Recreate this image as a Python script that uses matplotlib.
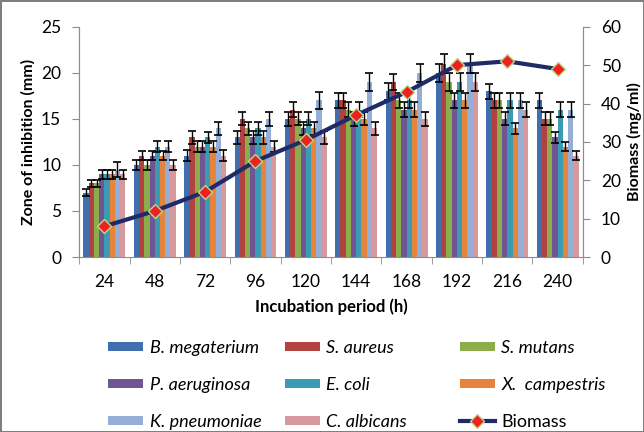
import numpy as np
import matplotlib
matplotlib.use("Agg")
import matplotlib.pyplot as plt
from matplotlib.patches import Patch
from matplotlib.lines import Line2D

plt.rcParams['font.family'] = ['Lato', 'DejaVu Sans']

hours = [24, 48, 72, 96, 120, 144, 168, 192, 216, 240]

species = ['B. megaterium', 'S. aureus', 'S. mutans', 'P. aeruginosa',
           'E. coli', 'X.  campestris', 'K. pneumoniae', 'C. albicans']

b_megaterium = [7, 10, 11, 13, 15, 17, 18, 20, 18, 17]
s_aureus = [8, 11, 13, 15, 16, 17, 19, 21, 17, 15]
s_mutans = [8, 10, 12, 14, 15, 16, 17, 19, 17, 15]
p_aeruginosa = [9, 11, 12, 13, 14, 15, 16, 17, 15, 13]
e_coli = [9, 12, 13, 14, 15, 16, 17, 19, 17, 16]
x_campestris = [9, 11, 12, 13, 14, 15, 16, 17, 14, 12]
k_pneumoniae = [9.5, 12, 14, 15, 17, 19, 20, 21, 17, 16]
c_albicans = [9, 10, 11, 12, 13, 14, 15, 19, 16, 11]

b_megaterium_err = [0.4, 0.5, 0.6, 0.7, 0.8, 0.8, 0.9, 1.0, 0.8, 0.8]
s_aureus_err = [0.4, 0.5, 0.7, 0.7, 0.8, 0.8, 0.9, 1.0, 0.8, 0.7]
s_mutans_err = [0.4, 0.5, 0.6, 0.7, 0.7, 0.8, 0.8, 1.0, 0.8, 0.7]
p_aeruginosa_err = [0.5, 0.5, 0.6, 0.7, 0.7, 0.8, 0.8, 0.8, 0.7, 0.6]
e_coli_err = [0.5, 0.6, 0.6, 0.7, 0.7, 0.8, 0.8, 1.0, 0.8, 0.8]
x_campestris_err = [0.5, 0.5, 0.6, 0.7, 0.7, 0.7, 0.8, 0.8, 0.6, 0.5]
k_pneumoniae_err = [0.8, 0.6, 0.7, 0.8, 0.9, 1.0, 1.0, 1.0, 0.8, 0.8]
c_albicans_err = [0.5, 0.5, 0.6, 0.6, 0.7, 0.7, 0.8, 1.0, 0.8, 0.5]

biomass = [8, 12, 17, 25, 30.5, 37, 43, 50, 51, 49]

colors = ['#3f6fac', '#b2423f', '#8cad4c', '#715494', '#3b9bb5', '#e5843a',
          '#94aed8', '#d6989a']

series = [b_megaterium, s_aureus, s_mutans, p_aeruginosa, e_coli,
          x_campestris, k_pneumoniae, c_albicans]
errors = [b_megaterium_err, s_aureus_err, s_mutans_err, p_aeruginosa_err,
          e_coli_err, x_campestris_err, k_pneumoniae_err, c_albicans_err]

fig = plt.figure(figsize=(6.44, 4.32), dpi=100, edgecolor='#7f7f7f', linewidth=2)
ax = fig.add_axes([0.123, 0.405, 0.782, 0.533])
ax2 = ax.twinx()

x = np.arange(len(hours))
w = 0.104
for i, (vals, errs) in enumerate(zip(series, errors)):
    pos = x + (i - 3.5) * w
    ax.bar(pos, vals, width=w, color=colors[i], zorder=2)
    ax.errorbar(pos, vals, yerr=errs, fmt='none', ecolor='black',
                elinewidth=1, capsize=3, capthick=1.2, zorder=3)

ax2.plot(x, biomass, color='#1f2a66', lw=3, marker='D', markersize=7,
         markerfacecolor='#ee2020', markeredgecolor='#b8d88a', markeredgewidth=1)

ax.set_xlim(-0.5, len(hours) - 0.5)
ax.set_ylim(0, 25)
ax2.set_ylim(0, 60)
ax.set_yticks(range(0, 26, 5))
ax2.set_yticks(range(0, 61, 10))
ax.set_xticks(x)
ax.set_xticklabels(hours)
ax.set_xticks(np.arange(-0.5, len(hours)), minor=True)
ax.tick_params(axis='x', which='major', length=0, labelsize=12.5, pad=12)
ax.tick_params(axis='x', which='minor', length=5, color='#8c8c8c')
ax.tick_params(axis='y', labelsize=12.5, length=5, color='#8c8c8c', pad=8)
ax2.tick_params(axis='y', labelsize=12.5, length=5, color='#8c8c8c', pad=8)

for a in (ax, ax2):
    a.spines['top'].set_visible(False)
    for s in ('left', 'right', 'bottom'):
        a.spines[s].set_color('#8c8c8c')
ax2.spines['bottom'].set_visible(False)

ax.set_ylabel('Zone of inhibition (mm)', fontsize=11.5, fontweight='bold')
ax2.set_ylabel('Biomass (mg/ml)', fontsize=11.5, fontweight='bold')
ax.set_xlabel('Incubation period (h)', fontsize=12, fontweight='bold', labelpad=6)

# legend: three columns placed by hand
patches = [Patch(facecolor=c, label=s) for c, s in zip(colors, species)]
line = Line2D([], [], color='#1f2a66', lw=3, marker='D', markersize=7,
              markerfacecolor='#ee2020', markeredgecolor='#b8d88a')
cols = [([patches[0], patches[3], patches[6]], [species[0], species[3], species[6]]),
        ([patches[1], patches[4], patches[7]], [species[1], species[4], species[7]]),
        ([patches[2], patches[5], line], [species[2], species[5], 'Biomass'])]
col_x = [0.168, 0.4425, 0.714]
for (h, l), cx in zip(cols, col_x):
    leg = fig.legend(h, l, loc='upper left', bbox_to_anchor=(cx, 0.214),
                     frameon=False, fontsize=13, handlelength=1.95,
                     handleheight=0.4, labelspacing=1.17, handletextpad=0.35,
                     borderpad=0, borderaxespad=0)
    for t in leg.get_texts():
        if t.get_text() != 'Biomass':
            t.set_fontstyle('italic')

fig.savefig('out.png', dpi=100, edgecolor=fig.get_edgecolor())
